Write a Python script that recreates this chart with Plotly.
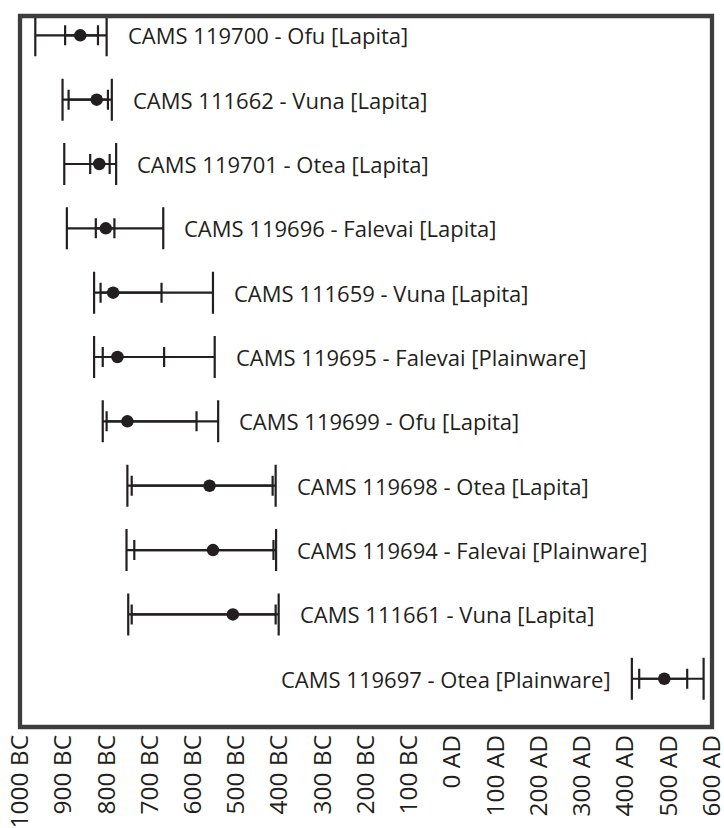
import plotly.graph_objects as go

labels = [
    "CAMS 119700 - Ofu [Lapita]",
    "CAMS 111662 - Vuna [Lapita]",
    "CAMS 119701 - Otea [Lapita]",
    "CAMS 119696 - Falevai [Lapita]",
    "CAMS 111659 - Vuna [Lapita]",
    "CAMS 119695 - Falevai [Plainware]",
    "CAMS 119699 - Ofu [Lapita]",
    "CAMS 119698 - Otea [Lapita]",
    "CAMS 119694 - Falevai [Plainware]",
    "CAMS 111661 - Vuna [Lapita]",
    "CAMS 119697 - Otea [Plainware]",
]
# calendar years (BC negative)
median   = [-861, -823, -817, -802, -785, -775, -752, -562, -554, -508, 490]
outer_lo = [-965, -902, -898, -892, -829, -829, -809, -752, -754, -750, 415]
outer_hi = [-800, -788, -778, -669, -554, -550, -542, -409, -408, -402, 581]
inner_lo = [-896, -888, -838, -825, -814, -809, -800, -742, -736, -742, 432]
inner_hi = [-820, -797, -793, -782, -673, -667, -592, -416, -414, -409, 543]

tick_vals = [-1000, -900, -800, -700, -600, -500, -400, -300, -200, -100,
             0, 100, 200, 300, 400, 500, 600]
tick_text = ["1000 BC", "900 BC", "800 BC", "700 BC", "600 BC", "500 BC",
             "400 BC", "300 BC", "200 BC", "100 BC", "0 AD", "100 AD",
             "200 AD", "300 AD", "400 AD", "500 AD", "600 AD"]

INK = "#231f20"
FONT = "Open Sans"

fig = go.Figure()

# outer (2-sigma) range
fig.add_trace(go.Scatter(
    x=median, y=labels, mode="markers",
    marker=dict(size=1, color="rgba(0,0,0,0)"),
    error_x=dict(type="data", symmetric=False,
                 array=[h - m for h, m in zip(outer_hi, median)],
                 arrayminus=[m - l for m, l in zip(median, outer_lo)],
                 color=INK, thickness=2.2, width=21),
    hoverinfo="skip", showlegend=False,
))
# inner (1-sigma) range
fig.add_trace(go.Scatter(
    x=median, y=labels, mode="markers",
    marker=dict(size=12.5, color=INK),
    error_x=dict(type="data", symmetric=False,
                 array=[h - m for h, m in zip(inner_hi, median)],
                 arrayminus=[m - l for m, l in zip(median, inner_lo)],
                 color=INK, thickness=2.2, width=10),
    showlegend=False,
))

for lab, lo, hi in zip(labels, outer_lo, outer_hi):
    if hi > 0:
        fig.add_annotation(x=lo, y=lab, text=lab, showarrow=False,
                           xanchor="right", xshift=-19,
                           font=dict(family=FONT, size=22, color=INK))
    else:
        fig.add_annotation(x=hi, y=lab, text=lab, showarrow=False,
                           xanchor="left", xshift=19,
                           font=dict(family=FONT, size=22, color=INK))

fig.add_shape(type="rect", xref="paper", yref="paper", x0=0, x1=1, y0=0, y1=1,
              line=dict(color="#3d3d3d", width=4.3), layer="above")

fig.update_layout(
    width=724, height=828,
    margin=dict(l=20, r=12, t=16, b=101, autoexpand=False),
    paper_bgcolor="white", plot_bgcolor="white",
    xaxis=dict(range=[-1000.4, 600.4], tickvals=tick_vals, ticktext=tick_text,
               tickangle=-90, showgrid=False, zeroline=False, ticks="",
               showline=False, automargin=False, ticklabeloverflow="allow",
               ticklabelstandoff=2,
               tickfont=dict(family=FONT, size=24.5, color=INK)),
    yaxis=dict(type="category", categoryorder="array", categoryarray=labels,
               range=[10.75, -0.30], showticklabels=False, showgrid=False,
               zeroline=False, showline=False, ticks="", automargin=False),
)

fig.write_html("out.html", config={"displayModeBar": False},
               post_script="document.body.style.margin='0px';document.body.style.overflow='hidden';")
